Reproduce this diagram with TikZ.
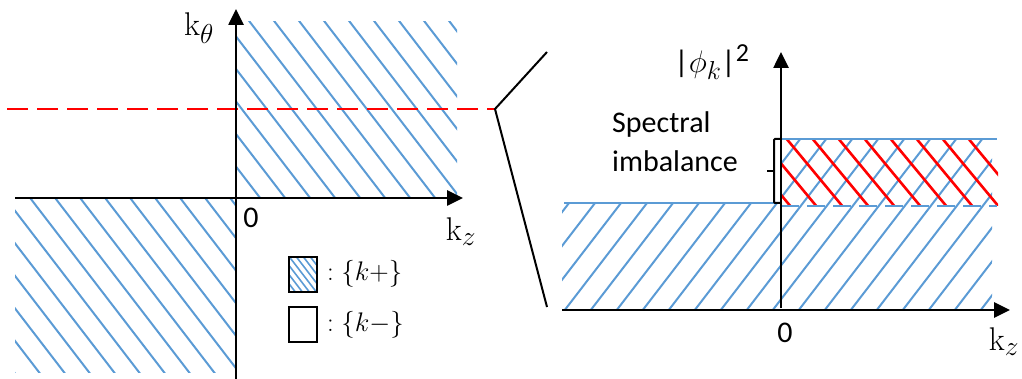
\documentclass[tikz,border=0pt]{standalone}
\usepackage[no-math]{fontspec}
\newfontfamily\calib{Carlito}
\usetikzlibrary{arrows.meta}
\definecolor{hblue}{RGB}{91,155,213}
\definecolor{hred}{RGB}{255,0,0}
\tikzset{
  axisline/.style={line width=2.6pt, -{Triangle[length=16pt,width=15pt]}},
  bhatch/.style={hblue, line width=2pt},
  rhatch/.style={hred, line width=2.6pt},
  bline/.style={hblue, line width=2.4pt},
  reddash/.style={hred, line width=2.6pt, dash pattern=on 21pt off 9pt},
  bluedash/.style={hblue, line width=2.4pt, dash pattern=on 18pt off 8pt},
  zoomline/.style={black, line width=2pt},
  legbox/.style={draw=black, line width=2.2pt, minimum width=28pt, minimum height=35pt, inner sep=0pt},
  lbl/.style={inner sep=0pt, font=\Huge, scale=1.32},
  zero/.style={inner sep=0pt, font=\calib\fontsize{30}{36}\selectfont},
  legtxt/.style={inner sep=0pt, anchor=west, font=\Huge, scale=1.08},
  spec/.style={inner sep=0pt, anchor=base west, font=\calib\fontsize{30}{36}\selectfont},
}
\begin{document}
\begin{tikzpicture}[x=1pt,y=-1pt]
\useasboundingbox (0,0) rectangle (1022,379);

% ---------- left panel hatching ----------
\begin{scope}
  \clip (236,22) rectangle (457,198);
  \foreach \c in {-67,-42,...,458} \draw[bhatch] (\c,0) -- ++(292,380);
\end{scope}
\begin{scope}
  \clip (15,198) rectangle (236,372);
  \foreach \c in {-297,-272,...,103} \draw[bhatch] (\c,0) -- ++(292,380);
\end{scope}

% red dashed line and zoom connector
\coordinate (rs) at (7,109);
\coordinate (zj) at (495,109);
\coordinate (zt) at (547,52);
\coordinate (zb) at (547,307);
\draw[reddash] (rs) -- (zj);
\draw[zoomline] (zt) -- (zj) -- (zb);

% left axes
\coordinate (lyb) at (236,379);
\coordinate (lyt) at (236,9);
\coordinate (lxl) at (15,198);
\coordinate (lxr) at (463,198);
\draw[axisline] (lyb) -- (lyt);
\draw[axisline] (lxl) -- (lxr);

\node[lbl] (kth) at (199,28) {$\mathrm{k}_\theta$};
\node[lbl] (kzl) at (461,232) {$\mathrm{k}_z$};
\node[zero] (zl) at (251,218) {0};

% legend
\begin{scope}
  \clip (289,257) rectangle (317,292);
  \foreach \c in {57,64,...,127} \draw[hblue, line width=1.6pt] (\c,0) -- ++(292,380);
\end{scope}
\node[legbox] (lb1) at (303,274.5) {};
\node[legbox] (lb2) at (303,324.5) {};
\node[legtxt] (lt1) at (327,274) {$:\{k{+}\}$};
\node[legtxt] (lt2) at (327,325) {$:\{k{-}\}$};

% ---------- right panel ----------
\begin{scope}
  \clip (562,203) -- (781,203) -- (781,139) -- (992,139) -- (992,310) -- (562,310) -- cycle;
  \foreach \c in {647,673,...,1245} \draw[bhatch] (\c,0) -- ++(-292,380);
\end{scope}
\begin{scope}
  \clip (781,139) rectangle (998,206);
  \foreach \c in {515.5,541.5,...,853.5} \draw[rhatch] (\c,0) -- ++(315,380);
\end{scope}

\coordinate (bt1) at (781,139);
\coordinate (bt2) at (997,139);
\coordinate (bl1) at (564,203);
\coordinate (bl2) at (781,203);
\coordinate (bd1) at (781,206);
\coordinate (bd2) at (997,206);
\draw[bline] (bt1) -- (bt2);
\draw[bline] (bl1) -- (bl2);
\draw[bluedash] (bd1) -- (bd2);

% brace
\coordinate (br1) at (781,139);
\coordinate (br2) at (781,203);
\draw[line width=2pt, rounded corners=1pt] (br1) -- (774,139) -- (774,203) -- (br2);
\coordinate (brm) at (774,171);
\coordinate (brt) at (767,171);
\draw[line width=2pt] (brm) -- (brt);

% right axes
\coordinate (ryb) at (781,308);
\coordinate (ryt) at (781,52);
\coordinate (rxl) at (562,310);
\coordinate (rxr) at (1010,310);
\draw[axisline] (ryb) -- (ryt);
\draw[axisline] (rxl) -- (rxr);

\node[inner sep=0pt, font=\calib\Huge, scale=1.25] (phi) at (712,62) {|$\phi_k$|\textsuperscript{2}};
\node[spec] (sp1) at (612,133) {Spectral};
\node[spec] (sp2) at (612,172) {imbalance};
\node[zero] (zr) at (785,333) {0};
\node[lbl] (kzr) at (1004,342) {$\mathrm{k}_z$};
\end{tikzpicture}
\end{document}
